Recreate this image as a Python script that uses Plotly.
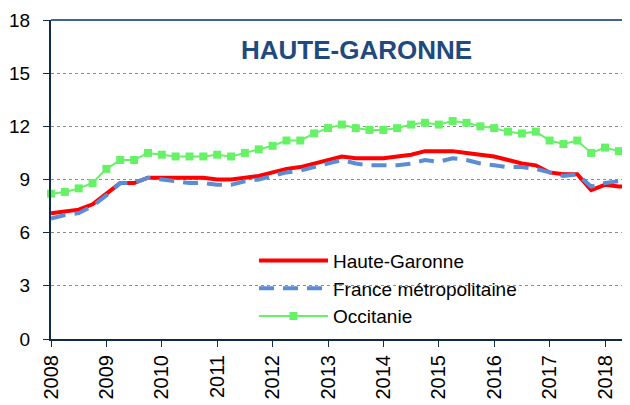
import plotly.graph_objects as go

# Quarterly unemployment rates, 2008 Q1 -> 2018 Q3
years = [y for y in range(2008, 2019) for _ in range(4)][:43]
quarters = [q for _ in range(2008, 2019) for q in (1, 2, 3, 4)][:43]

haute_garonne = [7.1, 7.2, 7.3, 7.6, 8.2, 8.8, 8.8, 9.1, 9.1, 9.1, 9.1, 9.1,
                 9.0, 9.0, 9.1, 9.2, 9.4, 9.6, 9.7, 9.9, 10.1, 10.3, 10.2, 10.2,
                 10.2, 10.3, 10.4, 10.6, 10.6, 10.6, 10.5, 10.4, 10.3, 10.1, 9.9, 9.8,
                 9.4, 9.3, 9.3, 8.4, 8.7, 8.6, 8.6]
france_metro = [6.8, 7.0, 7.1, 7.5, 8.1, 8.8, 8.8, 9.1, 9.0, 8.9, 8.8, 8.8,
                8.7, 8.7, 8.9, 9.0, 9.2, 9.4, 9.5, 9.7, 9.9, 10.1, 9.9, 9.8,
                9.8, 9.8, 9.9, 10.1, 10.0, 10.2, 10.1, 9.9, 9.8, 9.7, 9.7, 9.6,
                9.4, 9.2, 9.3, 8.6, 8.8, 8.9, 8.9]
occitanie = [8.2, 8.3, 8.5, 8.8, 9.6, 10.1, 10.1, 10.5, 10.4, 10.3, 10.3, 10.3,
             10.4, 10.3, 10.5, 10.7, 10.9, 11.2, 11.2, 11.6, 11.9, 12.1, 11.9, 11.8,
             11.8, 11.9, 12.1, 12.2, 12.1, 12.3, 12.2, 12.0, 11.9, 11.7, 11.6, 11.7,
             11.2, 11.0, 11.2, 10.5, 10.8, 10.6, 10.7]
year_ticks = list(range(2008, 2019))
y_ticks = [0, 3, 6, 9, 12, 15, 18]

x = [y + (q - 1) / 4 for y, q in zip(years, quarters)]

FONT = "Liberation Sans, Arial, sans-serif"
AXIS = "#0F2A4A"

fig = go.Figure()
fig.add_trace(go.Scatter(x=x, y=haute_garonne, name="Haute-Garonne", mode="lines",
                         line=dict(color="#FF0000", width=4), cliponaxis=False))
fig.add_trace(go.Scatter(x=x, y=france_metro, name="France métropolitaine", mode="lines",
                         line=dict(color="#5B8DD6", width=4, dash="15px,9px"), cliponaxis=False))
fig.add_trace(go.Scatter(x=x, y=occitanie, name="Occitanie", mode="lines+markers",
                         line=dict(color="#66F266", width=2),
                         marker=dict(symbol="square", size=8, color="#66F266"),
                         cliponaxis=False))

# page body has an 8px margin: figure is 622x397 so it ends at the window edge
fig.update_layout(
    width=622, height=397,
    margin=dict(l=43, r=0, t=12, b=66),
    paper_bgcolor="white", plot_bgcolor="white",
    font=dict(family=FONT, color="black"),
    showlegend=True,
    legend=dict(x=0.3506, y=0.305, xanchor="left", yanchor="top",
                bgcolor="rgba(0,0,0,0)", borderwidth=0,
                font=dict(size=19, family=FONT, color="black"),
                itemwidth=69, tracegroupgap=0),
    xaxis=dict(range=[2008, 2008 + 579 / 55.4], tickvals=year_ticks,
               ticktext=[str(v) for v in year_ticks], tickangle=-90,
               ticks="outside", ticklen=6, tickwidth=1, tickcolor=AXIS,
               showline=True, linecolor=AXIS, linewidth=2,
               showgrid=False, zeroline=False,
               tickfont=dict(size=20, family=FONT, color="black")),
    yaxis=dict(range=[0, 18], tickvals=y_ticks, ticks="outside", ticklen=6,
               tickwidth=1, tickcolor=AXIS, ticklabelstandoff=9,
               showline=True, linecolor=AXIS, linewidth=2,
               showgrid=True, gridcolor="#8C8C8C", gridwidth=1, griddash="dot",
               zeroline=False,
               tickfont=dict(size=19, family=FONT, color="black")),
    shapes=[
        dict(type="rect", xref="paper", yref="paper", x0=0.228, x1=0.9775,
             y0=0.03, y1=0.295, fillcolor="white", line=dict(width=0), layer="between"),
        dict(type="line", xref="paper", yref="paper", x0=0, x1=1, y0=1, y1=1,
             line=dict(color="#3F6497", width=2)),
    ],
    annotations=[
        dict(text="<b>HAUTE-GARONNE</b>", xref="paper", yref="paper",
             x=0.527, y=0.9045, xanchor="center", yanchor="middle", showarrow=False,
             font=dict(size=26, family=FONT, color="#1F4A7E")),
    ],
)

fig.write_html("out.html")
